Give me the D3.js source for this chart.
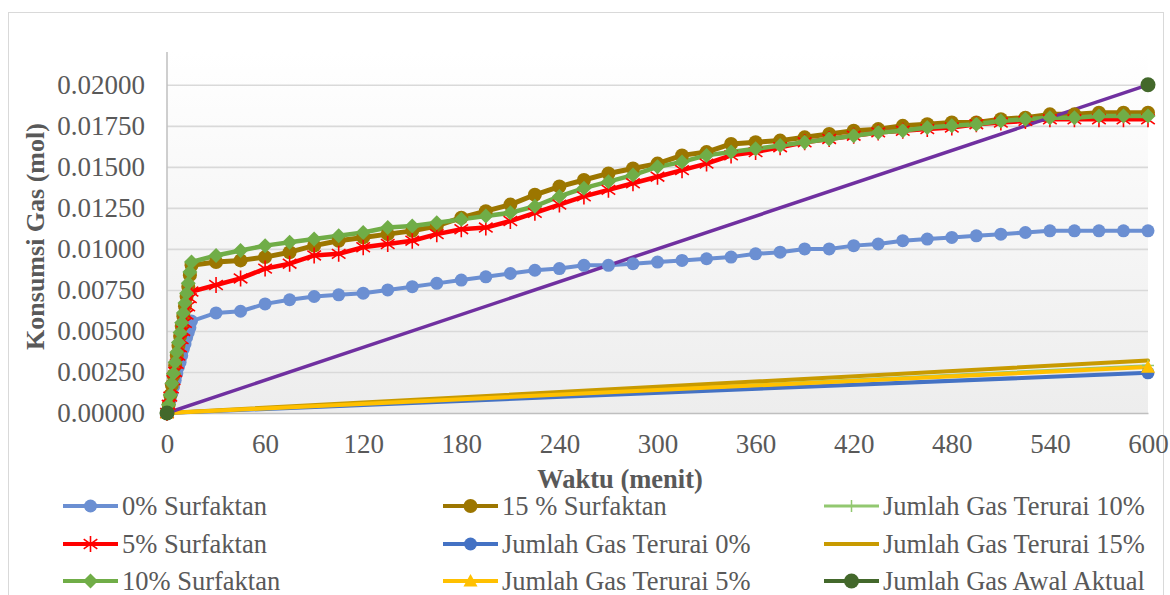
<!DOCTYPE html>
<html>
<head>
<meta charset="utf-8">
<script src="https://cdn.jsdelivr.net/npm/d3@7"></script>
<style>
  body { margin: 0; background: #ffffff; }
  svg { display: block; }
  text { font-family: "Liberation Serif", "Times New Roman", serif; fill: #595959; }
</style>
</head>
<body>
<svg id="chart" width="1170" height="595"></svg>
<script>
// Sampling times (minutes): every minute during the first 15 minutes, then every 15 minutes
const minutes = [0,1,2,3,4,5,6,7,8,9,10,11,12,13,14,15,
  30,45,60,75,90,105,120,135,150,165,
  180,195,210,225,240,255,270,285,300,
  315,330,345,360,375,390,405,420,435,450,
  465,480,495,510,525,540,555,570,585,600];

// Gas consumption (mol) per surfactant concentration
const surfaktan0 = [0,0.0004,0.0008,0.0012,0.0016,0.0020,0.0024,0.0028,0.0031,0.0035,0.0039,0.0042,0.0046,0.0049,0.0052,0.0056,
  0.0061,0.0062,0.00665,0.0069,0.0071,0.0072,0.0073,0.0075,0.0077,0.0079,
  0.0081,0.0083,0.0085,0.0087,0.0088,0.0090,0.0090,0.0091,0.0092,
  0.0093,0.0094,0.0095,0.0097,0.0098,0.0100,0.0100,0.0102,0.0103,0.0105,
  0.0106,0.0107,0.0108,0.0109,0.0110,0.0111,0.0111,0.0111,0.0111,0.0111];

const surfaktan5 = [0,0.0005,0.0010,0.0015,0.0020,0.0025,0.0030,0.0035,0.0040,0.0045,0.0050,0.0055,0.0060,0.0065,0.0070,0.0074,
  0.0078,0.0082,0.0088,0.0091,0.0096,0.0097,0.0101,0.0103,0.0105,0.0109,
  0.0112,0.0113,0.0117,0.0122,0.0127,0.0132,0.0136,0.0140,0.0144,
  0.0148,0.0152,0.0157,0.0159,0.0162,0.0165,0.0167,0.0169,0.0171,0.0172,
  0.0173,0.0174,0.0176,0.0177,0.0178,0.0179,0.0179,0.0179,0.0179,0.0179];

const surfaktan10 = [0,0.0005,0.0011,0.0018,0.0024,0.0031,0.0037,0.0043,0.0049,0.0055,0.0061,0.0067,0.0073,0.0079,0.0086,0.0092,
  0.0096,0.0099,0.0102,0.0104,0.0106,0.0108,0.0110,0.0113,0.0114,0.0116,
  0.0118,0.0120,0.0122,0.0126,0.0132,0.0137,0.0141,0.0145,0.0150,
  0.0153,0.0157,0.0159,0.0161,0.0163,0.0165,0.0167,0.0169,0.0171,0.0172,
  0.0174,0.0175,0.0176,0.0178,0.0179,0.0180,0.0180,0.0181,0.0181,0.0181];

const surfaktan15 = [0,0.0005,0.0011,0.0017,0.0023,0.0029,0.0035,0.0041,0.0047,0.0053,0.0059,0.0065,0.0071,0.0077,0.0084,0.0090,
  0.0092,0.0093,0.0095,0.0098,0.0102,0.0105,0.0107,0.0109,0.0111,0.0114,
  0.0119,0.0123,0.0127,0.0133,0.0138,0.0142,0.0146,0.0149,0.0152,
  0.0157,0.0159,0.0164,0.0165,0.0166,0.0168,0.0170,0.0172,0.0173,0.0175,
  0.0176,0.0177,0.0177,0.0179,0.0180,0.0182,0.0182,0.0183,0.0183,0.0183];

// Decomposed gas totals and initial gas (start and end of run)
const endMinutes = [0, 600];
const terurai0 = [0, 0.00245];
const terurai5 = [0, 0.0028];
const terurai10 = [0, 0.0029];
const terurai15 = [0, 0.0032];
const gasAwalAktual = [0, 0.0200];
const gasAwalGaris = [0, 0.0200];

const xTicks = [0, 60, 120, 180, 240, 300, 360, 420, 480, 540, 600];
const yTicks = [0, 0.0025, 0.005, 0.0075, 0.01, 0.0125, 0.015, 0.0175, 0.02];

const FONT = '"Liberation Serif", "Times New Roman", serif';
const svg = d3.select("#chart");
const plot = { left: 167, right: 1148, top: 52, bottom: 413 };

const x = d3.scaleLinear().domain([0, 600]).range([plot.left, plot.right]);
const y = d3.scaleLinear().domain([0, 0.022]).range([plot.bottom, plot.top]);

// Outer chart border
svg.append("rect")
  .attr("x", 8.5).attr("y", 12.5).attr("width", 1155).attr("height", 620)
  .attr("fill", "#ffffff").attr("stroke", "#d9d9d9").attr("stroke-width", 1);

// Plot area fill: soft vertical gradient
const defs = svg.append("defs");
const grad = defs.append("linearGradient").attr("id", "plotFill")
  .attr("x1", 0).attr("y1", 0).attr("x2", 0).attr("y2", 1);
grad.append("stop").attr("offset", "0%").attr("stop-color", "#ffffff");
grad.append("stop").attr("offset", "100%").attr("stop-color", "#ededed");

svg.append("rect")
  .attr("x", plot.left).attr("y", plot.top)
  .attr("width", plot.right - plot.left).attr("height", plot.bottom - plot.top)
  .attr("fill", "url(#plotFill)");

// Horizontal gridlines
const grid = svg.append("g")
  .attr("transform", `translate(${plot.left},0)`)
  .call(d3.axisLeft(y).tickValues(yTicks.slice(1)).tickSize(-(plot.right - plot.left)).tickFormat(""));
grid.select(".domain").remove();
grid.selectAll(".tick line").attr("stroke", "#d9d9d9").attr("stroke-width", 1.6);

// Y axis
const yAxis = svg.append("g")
  .attr("transform", `translate(${plot.left},0)`)
  .attr("font-family", FONT)
  .call(d3.axisLeft(y).tickValues(yTicks).tickSize(0).tickPadding(22).tickFormat(d3.format(".5f")));
yAxis.attr("font-family", FONT);
yAxis.select(".domain").remove();
yAxis.selectAll("text").style("font-size", "27px").attr("fill", "#595959").style("font-family", FONT);

svg.append("line")
  .attr("x1", plot.left).attr("x2", plot.left)
  .attr("y1", plot.top).attr("y2", plot.bottom)
  .attr("stroke", "#bfbfbf").attr("stroke-width", 1.5);

// X axis
const xAxis = svg.append("g")
  .attr("transform", `translate(0,${plot.bottom})`)
  .call(d3.axisBottom(x).tickValues(xTicks).tickSize(0).tickPadding(21).tickFormat(d3.format("d")));
xAxis.attr("font-family", FONT);
xAxis.select(".domain").attr("stroke", "#bfbfbf").attr("stroke-width", 1.5);
xAxis.selectAll("text").style("font-size", "27px").attr("fill", "#595959").style("font-family", FONT);

// Axis titles
svg.append("text")
  .attr("x", 620).attr("y", 488)
  .attr("text-anchor", "middle")
  .style("font-family", FONT)
  .style("font-size", "26.5px").style("font-weight", "bold")
  .text("Waktu (menit)");

svg.append("text")
  .attr("transform", `translate(44,${(plot.top + plot.bottom) / 2 + 4}) rotate(-90)`)
  .attr("text-anchor", "middle")
  .style("font-family", FONT)
  .style("font-size", "26px").style("font-weight", "bold")
  .text("Konsumsi Gas (mol)");

// Marker shapes
function drawMarker(g, type, color, cx, cy, size) {
  if (type === "circle") {
    g.append("circle").attr("cx", cx).attr("cy", cy).attr("r", size).attr("fill", color);
  } else if (type === "diamond") {
    const s = size;
    g.append("path")
      .attr("d", `M${cx},${cy - s}L${cx + s},${cy}L${cx},${cy + s}L${cx - s},${cy}Z`)
      .attr("fill", color);
  } else if (type === "star") {
    const s = size;
    g.append("path")
      .attr("d", `M${cx},${cy - s}L${cx},${cy + s}M${cx - s * 0.85},${cy - s * 0.6}L${cx + s * 0.85},${cy + s * 0.6}M${cx - s * 0.85},${cy + s * 0.6}L${cx + s * 0.85},${cy - s * 0.6}`)
      .attr("stroke", color).attr("stroke-width", 1.6).attr("fill", "none");
  } else if (type === "triangle") {
    const s = size;
    g.append("path")
      .attr("d", `M${cx},${cy - s}L${cx + s},${cy + s * 0.8}L${cx - s},${cy + s * 0.8}Z`)
      .attr("fill", color);
  } else if (type === "plus") {
    const s = size;
    g.append("path")
      .attr("d", `M${cx},${cy - s}L${cx},${cy + s}M${cx - s},${cy}L${cx + s},${cy}`)
      .attr("stroke", color).attr("stroke-width", 1.5);
  }
}

const series = [
  { name: "0% Surfaktan", t: minutes, v: surfaktan0, color: "#6b8fd2", width: 4, marker: "circle", size: 6.5 },
  { name: "15 % Surfaktan", t: minutes, v: surfaktan15, color: "#9c7600", width: 5, marker: "circle", size: 7 },
  { name: "Jumlah Gas Terurai 10%", t: endMinutes, v: terurai10, color: "#92c870", width: 2.5, marker: "plus", size: 6 },
  { name: "5% Surfaktan", t: minutes, v: surfaktan5, color: "#ff0000", width: 4.5, marker: "star", size: 8 },
  { name: "Jumlah Gas Terurai 0%", t: endMinutes, v: terurai0, color: "#4472c4", width: 4, marker: "circle", size: 6.5 },
  { name: "Jumlah Gas Terurai 15%", t: endMinutes, v: terurai15, color: "#c89a00", width: 4, marker: "none", size: 0 },
  { name: "10% Surfaktan", t: minutes, v: surfaktan10, color: "#70ad47", width: 4.5, marker: "diamond", size: 7.5 },
  { name: "Jumlah Gas Terurai 5%", t: endMinutes, v: terurai5, color: "#ffc000", width: 4, marker: "triangle", size: 7 },
  { name: "Jumlah Gas Awal Aktual", t: endMinutes, v: gasAwalAktual, color: "#43682b", width: 4, marker: "circle", size: 7.5 }
];

const line = d3.line().x(d => x(d[0])).y(d => y(d[1]));
const seriesLayer = svg.append("g");

series.forEach(s => {
  const pts = s.t.map((t, i) => [t, s.v[i]]);
  if (s.name !== "Jumlah Gas Awal Aktual") {
    seriesLayer.append("path").datum(pts)
      .attr("d", line).attr("fill", "none")
      .attr("stroke", s.color).attr("stroke-width", s.width)
      .attr("stroke-linejoin", "round").attr("stroke-linecap", "round");
  }
  s.points = pts;
});

// Straight initial-gas line
seriesLayer.append("path")
  .datum(endMinutes.map((t, i) => [t, gasAwalGaris[i]]))
  .attr("d", line).attr("fill", "none")
  .attr("stroke", "#7030a0").attr("stroke-width", 3.5);

// Markers on top of the lines of each series
series.forEach(s => {
  if (s.marker === "none") return;
  const mg = seriesLayer.append("g");
  s.points.forEach(p => drawMarker(mg, s.marker, s.color, x(p[0]), y(p[1]), s.size));
});

// Legend (three columns)
const colX = [63, 443, 824];
const rowY = [506, 544, 581];
const legend = svg.append("g");
series.forEach((s, i) => {
  const cx = colX[i % 3], cy = rowY[Math.floor(i / 3)];
  const g = legend.append("g");
  g.append("line")
    .attr("x1", cx).attr("x2", cx + 55).attr("y1", cy).attr("y2", cy)
    .attr("stroke", s.color).attr("stroke-width", s.width > 3 ? 4 : 3);
  drawMarker(g, s.marker, s.color, cx + 27.5, cy, s.size);
  g.append("text")
    .attr("x", cx + 59).attr("y", cy).attr("dy", "0.33em")
    .style("font-family", FONT)
    .style("font-size", "26.5px")
    .text(s.name);
});
</script>
</body>
</html>
